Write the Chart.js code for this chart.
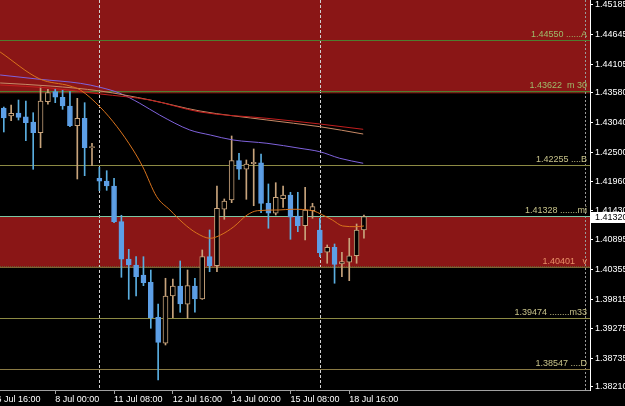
<!DOCTYPE html>
<html>
<head>
<meta charset="utf-8">
<script src="https://cdn.jsdelivr.net/npm/chart.js@4.4.1/dist/chart.umd.min.js"></script>
<style>
  html, body { margin: 0; padding: 0; background: #000; }
</style>
</head>
<body>
<canvas id="chart" width="625" height="406"></canvas>
<script>
// H4 candles, bar 0 = 6 Jul 20:00, bar 13 = 11 Jul 00:00, bar 43 = 18 Jul 00:00
const opens  = [1.43304, 1.43158, 1.43213, 1.43145, 1.43049, 1.42853, 1.43419, 1.43602, 1.43500, 1.43341,
                1.42981, 1.43116, 1.42579, 1.42021, 1.41971, 1.41880, 1.41228, 1.40547, 1.40438, 1.40255,
                1.40122, 1.39483, 1.39008, 1.39872, 1.40054, 1.39720, 1.40054, 1.39817, 1.40589, 1.40425,
                1.41455, 1.41624, 1.42342, 1.42185, 1.42287, 1.42305, 1.41564, 1.41382, 1.41648, 1.41716,
                1.41332, 1.41155, 1.41429, 1.41077, 1.40670, 1.40761, 1.40456, 1.40487, 1.40607, 1.41077];
const highs  = [1.43322, 1.43359, 1.43450, 1.43432, 1.43218, 1.43688, 1.43646, 1.43664, 1.43633, 1.43602,
                1.43481, 1.43401, 1.42660, 1.42221, 1.42159, 1.42021, 1.41345, 1.40724, 1.40589, 1.40589,
                1.40346, 1.39726, 1.40195, 1.40182, 1.40511, 1.40346, 1.40195, 1.40712, 1.41077, 1.41880,
                1.41643, 1.42793, 1.42477, 1.42355, 1.42556, 1.42464, 1.41917, 1.41940, 1.41880, 1.41765,
                1.41765, 1.41856, 1.41564, 1.41290, 1.40803, 1.40821, 1.40670, 1.40925, 1.41186, 1.41350];
const lows   = [1.42866, 1.43072, 1.43085, 1.42707, 1.42185, 1.42579, 1.43372, 1.43401, 1.43280, 1.42963,
                1.42008, 1.42068, 1.42251, 1.41794, 1.41801, 1.41210, 1.40213, 1.39811, 1.39871, 1.40060,
                1.39282, 1.38338, 1.38977, 1.39475, 1.39574, 1.39464, 1.39574, 1.39810, 1.40315, 1.40315,
                1.41272, 1.41575, 1.42002, 1.41637, 1.41520, 1.41393, 1.41108, 1.41350, 1.41491, 1.40907,
                1.41046, 1.40894, 1.41290, 1.40589, 1.40469, 1.40104, 1.40224, 1.40151, 1.40469, 1.40925];
const closes = [1.43122, 1.43207, 1.43134, 1.43036, 1.42853, 1.43432, 1.43584, 1.43500, 1.43341, 1.42981,
                1.43116, 1.42579, 1.42598, 1.41966, 1.41880, 1.41228, 1.40542, 1.40438, 1.40224, 1.40115,
                1.39475, 1.39026, 1.39872, 1.40054, 1.39726, 1.40060, 1.39817, 1.40589, 1.40425, 1.41473,
                1.41606, 1.42342, 1.42185, 1.42282, 1.42313, 1.41564, 1.41382, 1.41674, 1.41716, 1.41309,
                1.41155, 1.41442, 1.41502, 1.40662, 1.40761, 1.40450, 1.40498, 1.40607, 1.41077, 1.41320];

// moving averages, read at a few bar positions
const fastMaBars = [-0.5, 4.9, 9, 10.4, 13.1, 15.4, 17.6, 18.9, 20.8, 22.6, 24.4, 26.2, 28.1, 29.5, 31.3, 33.1, 34.5, 37.4, 39.2, 42, 43.4, 44.7, 46.1, 47.9, 49];
const fastMa     = [1.44327, 1.43834, 1.43706, 1.43633, 1.43322, 1.42963, 1.42537, 1.42232, 1.41685, 1.41442, 1.41204, 1.41022, 1.40925, 1.40985, 1.41137, 1.41350, 1.41429, 1.41442, 1.41455, 1.41429, 1.41350, 1.41259, 1.41150, 1.41137, 1.41150];
const slowMaBars = [-0.5, 6.3, 13.1, 19.9, 26.7, 35.8, 43, 48.9];
const redMa      = [1.43724, 1.43669, 1.43560, 1.43450, 1.43231, 1.43116, 1.43012, 1.42915];
const tanMa      = [1.43761, 1.43706, 1.43615, 1.43450, 1.43249, 1.43085, 1.42963, 1.42829];
const blueMaBars = [-0.5, 4.9, 10.4, 13.1, 15.8, 18.5, 21.2, 25.3, 28.1, 31.2, 35.8, 40.3, 43, 45.7, 48.9];
const blueMa     = [1.43907, 1.43828, 1.43755, 1.43682, 1.43573, 1.43390, 1.43176, 1.42903, 1.42811, 1.42720, 1.42660, 1.42568, 1.42506, 1.42386, 1.42295];

// drawn objects
const levelValues = [1.44550, 1.43622, 1.42255, 1.41328, 1.40401, 1.39474, 1.38547];
const levelTexts  = ['1.44550 ......A', '1.43622  m 30', '1.42255 ....B', '1.41328 .......mi', '1.40401   v', '1.39474 ........m33', '1.38547 ....D'];
const levelLineColors = ['#4f7d2f', '#4f7d2f', '#8c8a44', '#7cc6a4', '#7a6535', '#8c8a44', '#8a7a44'];
const levelTextColors = ['#9ebc6a', '#9ebc6a', '#c8c38a', '#c8c38a', '#e89068', '#c8c38a', '#c8c38a'];
const zoneTops    = [1.46, 1.41328];
const zoneBottoms = [1.43572, 1.40401];
const zoneEdgeColors = ['#5a3a1a', '#6a5530'];
const separatorBars = [13, 43];

// axes
const xTickBars   = [-1, 7, 15, 23, 31, 39, 47];
const xTickLabels = ['6 Jul 16:00', '8 Jul 00:00', '11 Jul 08:00', '12 Jul 16:00', '14 Jul 00:00', '15 Jul 08:00', '18 Jul 16:00'];
const yTicks = [1.45185, 1.44645, 1.44105, 1.43580, 1.43040, 1.42500, 1.41960, 1.41430, 1.40895, 1.40355, 1.39815, 1.39275, 1.38735, 1.38210];

const X_MIN = -0.517, X_MAX = 79.755;
const Y_MIN = 1.38155, Y_MAX = 1.45276;
const FONT = { family: 'Liberation Sans, Arial, sans-serif', size: 9 };

const BULL = '#c8a47c', BEAR = '#5d9fe6', BEAR_WICK = '#5aaee0';
const bull = closes.map(function(c, i) { return c >= opens[i]; });

// Axis labels hanging over the plot edges must not shrink the plot area.
function noScalePadding(s) {
    s.paddingLeft = 0;
    s.paddingRight = 0;
    s.paddingTop = 0;
    s.paddingBottom = 0;
}

// zones, levels and week separators behind the candles, price box on top
const terminalPlugin = {
    id: 'terminal',
    beforeDraw: function(chart) {
        const ctx = chart.ctx, a = chart.chartArea, x = chart.scales.x, y = chart.scales.y;
        ctx.save();
        ctx.fillStyle = '#000';
        ctx.fillRect(0, 0, chart.width, chart.height);

        ctx.beginPath();
        ctx.rect(a.left, a.top, a.right - a.left, a.bottom - a.top);
        ctx.clip();

        ctx.fillStyle = '#8a1616';
        zoneTops.forEach(function(t, i) {
            const y1 = y.getPixelForValue(t), y2 = y.getPixelForValue(zoneBottoms[i]);
            ctx.fillRect(a.left, y1, a.right - a.left, y2 - y1);
        });

        ctx.lineWidth = 1;
        // dotted outline on the inner edge of each zone
        ctx.setLineDash([1, 1]);
        zoneBottoms.forEach(function(b, i) {
            const py = Math.round(y.getPixelForValue(b)) - 0.5;
            ctx.strokeStyle = zoneEdgeColors[i];
            ctx.beginPath(); ctx.moveTo(a.left, py); ctx.lineTo(a.right, py); ctx.stroke();
        });

        ctx.strokeStyle = '#d0d0d0';
        ctx.setLineDash([3, 2]);
        separatorBars.forEach(function(b) {
            const px = Math.round(x.getPixelForValue(b)) + 0.5;
            ctx.beginPath(); ctx.moveTo(px, a.top); ctx.lineTo(px, a.bottom); ctx.stroke();
        });
        // chart shift marker near the right edge
        ctx.strokeStyle = '#9a9a9a';
        ctx.setLineDash([2, 2]);
        ctx.beginPath(); ctx.moveTo(a.right - 4.5, a.top); ctx.lineTo(a.right - 4.5, a.bottom); ctx.stroke();
        ctx.setLineDash([]);

        ctx.font = FONT.size + 'px ' + FONT.family;
        ctx.textAlign = 'right';
        ctx.textBaseline = 'bottom';
        levelValues.forEach(function(v, i) {
            const py = Math.round(y.getPixelForValue(v)) + 0.5;
            ctx.strokeStyle = levelLineColors[i];
            ctx.beginPath(); ctx.moveTo(a.left, py); ctx.lineTo(a.right, py); ctx.stroke();
            ctx.fillStyle = levelTextColors[i];
            ctx.fillText(levelTexts[i], a.right - 3, py - 1);
        });
        ctx.restore();
    },
    afterDraw: function(chart) {
        const ctx = chart.ctx, a = chart.chartArea, y = chart.scales.y;
        const last = closes[closes.length - 1];
        const py = y.getPixelForValue(last);
        ctx.save();
        ctx.fillStyle = '#fff';
        ctx.fillRect(a.right + 1, Math.round(py) - 5, chart.width - a.right - 1, 11);
        ctx.fillStyle = '#000';
        ctx.font = FONT.size + 'px ' + FONT.family;
        ctx.textAlign = 'left';
        ctx.textBaseline = 'middle';
        ctx.fillText(last.toFixed(5), a.right + 5, Math.round(py) + 0.5);
        ctx.restore();
    }
};

function maLine(bars, values, color) {
    return {
        type: 'line',
        data: bars.map(function(b, i) { return { x: b, y: values[i] }; }),
        borderColor: color,
        borderWidth: 1,
        pointRadius: 0,
        cubicInterpolationMode: 'monotone',
        order: -1
    };
}

new Chart(document.getElementById('chart'), {
    type: 'bar',
    data: {
        datasets: [
            {
                // candle bodies
                data: opens.map(function(o, i) { return { x: i, y: [o, closes[i]] }; }),
                backgroundColor: bull.map(function(b) { return b ? '#000' : BEAR; }),
                borderColor: bull.map(function(b) { return b ? BULL : BEAR; }),
                borderWidth: 1,
                borderSkipped: false,
                barThickness: 5,
                minBarLength: 1,
                grouped: false,
                order: 0
            },
            {
                // wicks
                data: lows.map(function(l, i) { return { x: i, y: [l, highs[i]] }; }),
                backgroundColor: bull.map(function(b) { return b ? BULL : BEAR_WICK; }),
                borderWidth: 0,
                barThickness: 1,
                grouped: false,
                order: 1
            },
            maLine(fastMaBars, fastMa, '#d9731c'),
            maLine(slowMaBars, redMa, '#c41e1e'),
            maLine(slowMaBars, tanMa, '#c88a66'),
            maLine(blueMaBars, blueMa, '#7f62dc')
        ]
    },
    options: {
        responsive: false,
        animation: false,
        layout: { padding: 0 },
        plugins: {
            legend: { display: false },
            tooltip: { enabled: false }
        },
        scales: {
            x: {
                type: 'linear',
                min: X_MIN,
                max: X_MAX,
                offset: false,
                grid: { drawOnChartArea: false, drawTicks: true, tickLength: 4, color: '#a0a0a0', offset: false },
                border: { color: '#a0a0a0' },
                afterBuildTicks: function(s) { s.ticks = xTickBars.map(function(v) { return { value: v }; }); },
                afterFit: function(s) { s.height = 16; noScalePadding(s); },
                ticks: {
                    autoSkip: false,
                    maxRotation: 0,
                    align: 'start',
                    padding: 0,
                    color: '#ffffff',
                    font: FONT,
                    callback: function(v, idx) { return xTickLabels[idx]; }
                }
            },
            y: {
                position: 'right',
                min: Y_MIN,
                max: Y_MAX,
                grid: { drawOnChartArea: false, drawTicks: true, tickLength: 3, color: '#ffffff' },
                border: { color: '#ffffff' },
                afterBuildTicks: function(s) { s.ticks = yTicks.map(function(v) { return { value: v }; }); },
                afterFit: function(s) { s.width = 35; noScalePadding(s); },
                ticks: {
                    padding: 2,
                    color: '#ffffff',
                    font: FONT,
                    callback: function(v) { return v.toFixed(5); }
                }
            }
        }
    },
    plugins: [terminalPlugin]
});
</script>
</body>
</html>
